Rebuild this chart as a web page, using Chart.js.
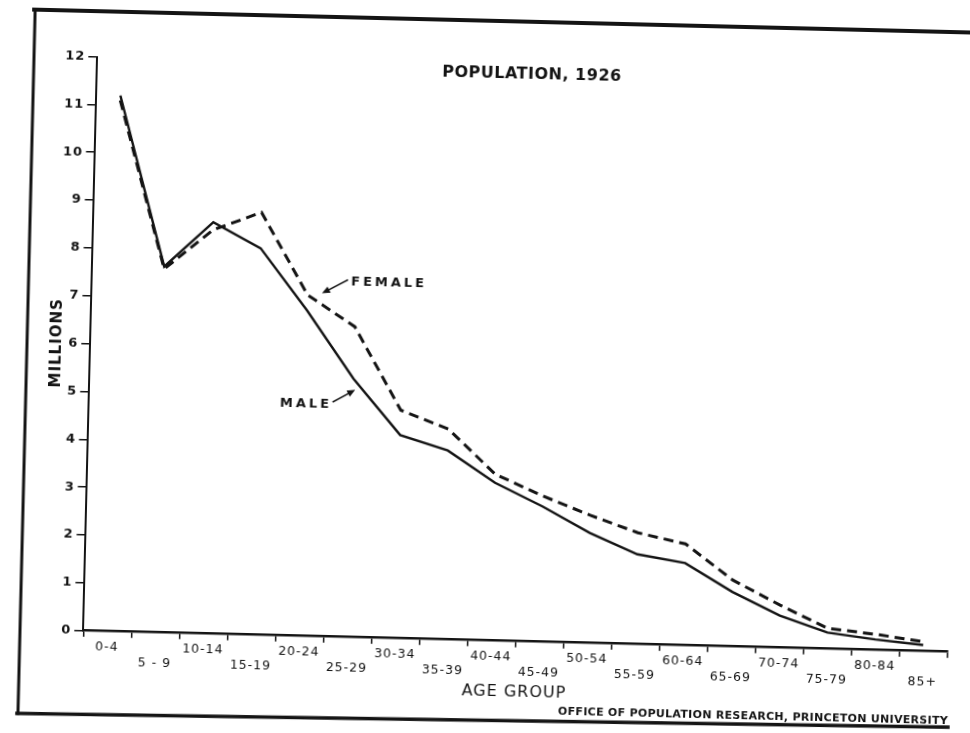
<!DOCTYPE html>
<html>
<head>
<meta charset="utf-8">
<title>Population, 1926</title>
<script src="https://cdn.jsdelivr.net/npm/chart.js@4.4.0/dist/chart.umd.min.js"></script>
<style>
  html, body { margin: 0; padding: 0; background: #fff; overflow: hidden; }
  #wrap { position: relative; width: 970px; height: 733px; }
  /* the scanned page sits a little crooked */
  #chart { display: block; transform: rotate(1.4deg); transform-origin: 83.3px 630.7px; }
</style>
</head>
<body>
<div id="wrap"><canvas id="chart" width="970" height="733"></canvas></div>
<script>
// Age groups on the x axis
var ageGroups = ['0-4', '5 - 9', '10-14', '15-19', '20-24', '25-29', '30-34', '35-39', '40-44',
                 '45-49', '50-54', '55-59', '60-64', '65-69', '70-74', '75-79', '80-84', '85+'];

// Population in millions
var male   = [11.2, 7.65, 8.6, 8.08, 6.8, 5.4, 4.25, 3.95, 3.3, 2.83, 2.3, 1.88, 1.72, 1.14, 0.67, 0.34, 0.22, 0.13];
var female = [11.1, 7.6, 8.44, 8.83, 7.13, 6.49, 4.77, 4.4, 3.48, 3.05, 2.67, 2.33, 2.12, 1.39, 0.89, 0.43, 0.33, 0.2];

var ink = '#141414';
Chart.defaults.font.family = "'DejaVu Sans', sans-serif";
Chart.defaults.color = ink;

// Draws the page frame, title, series labels and credit line
var paperNotes = {
    id: 'paperNotes',
    beforeDraw: function (chart) {
        chart.ctx.letterSpacing = '1px';
    },
    afterDraw: function (chart) {
        var ctx = chart.ctx;
        var xs = chart.scales.x;
        var ys = chart.scales.y;
        function px(i) { return xs.getPixelForValue(i); }
        function py(v) { return ys.getPixelForValue(v); }

        function arrow(x1, y1, x2, y2) {
            var a = Math.atan2(y2 - y1, x2 - x1);
            ctx.lineWidth = 1.6;
            ctx.beginPath();
            ctx.moveTo(x1, y1);
            ctx.lineTo(x2 - 5 * Math.cos(a), y2 - 5 * Math.sin(a));
            ctx.stroke();
            ctx.beginPath();
            ctx.moveTo(x2, y2);
            ctx.lineTo(x2 - 8 * Math.cos(a) + 3.5 * Math.sin(a), y2 - 8 * Math.sin(a) - 3.5 * Math.cos(a));
            ctx.lineTo(x2 - 8 * Math.cos(a) - 3.5 * Math.sin(a), y2 - 8 * Math.sin(a) + 3.5 * Math.cos(a));
            ctx.closePath();
            ctx.fill();
        }

        ctx.save();
        ctx.strokeStyle = ink;
        ctx.fillStyle = ink;
        ctx.lineCap = 'square';

        // frame
        ctx.lineWidth = 3;
        ctx.beginPath(); ctx.moveTo(20, 715); ctx.lineTo(20, 11); ctx.stroke();
        ctx.lineWidth = 4;
        ctx.beginPath(); ctx.moveTo(19, 11); ctx.lineTo(975, 11); ctx.stroke();
        ctx.lineWidth = 3.5;
        ctx.beginPath(); ctx.moveTo(19, 715); ctx.lineTo(950, 706); ctx.stroke();

        // title
        ctx.textBaseline = 'middle';
        ctx.textAlign = 'center';
        ctx.letterSpacing = '0.5px';
        ctx.font = "bold 16px 'DejaVu Sans'";
        ctx.fillText('POPULATION, 1926', px(8.56), py(11.84));

        // series labels
        ctx.textAlign = 'left';
        ctx.letterSpacing = '3px';
        ctx.font = "bold 13px 'DejaVu Sans'";
        ctx.fillText('FEMALE', px(4.9), py(7.42));
        arrow(px(4.82), py(7.46), px(4.3), py(7.17));
        ctx.fillText('MALE', px(3.48), py(4.86));
        arrow(px(4.59), py(4.91), px(5.04), py(5.17));

        // credit
        ctx.textAlign = 'right';
        ctx.letterSpacing = '0.3px';
        ctx.font = "bold 11px 'DejaVu Sans'";
        ctx.fillText('OFFICE OF POPULATION RESEARCH, PRINCETON UNIVERSITY', 950, 700);
        ctx.restore();
    }
};

var ctx = document.getElementById('chart').getContext('2d');
window.popChart = new Chart(ctx, {
    type: 'line',
    data: {
        labels: ageGroups,
        datasets: [{
            label: 'Male',
            data: male,
            borderColor: ink,
            borderWidth: 2.4,
            pointRadius: 0,
            tension: 0,
            fill: false
        }, {
            label: 'Female',
            data: female,
            borderColor: ink,
            borderWidth: 3,
            borderDash: [10, 6],
            pointRadius: 0,
            tension: 0,
            fill: false
        }]
    },
    options: {
        responsive: false,
        animation: false,
        devicePixelRatio: 1,
        layout: { padding: { left: 0, right: 22.7, top: 56.5, bottom: 0 } },
        plugins: {
            legend: { display: false },
            tooltip: { enabled: false }
        },
        scales: {
            x: {
                offset: true,
                grid: { offset: true, drawOnChartArea: false, drawTicks: true, tickLength: 6, color: ink, lineWidth: 1.5 },
                border: { display: true, color: ink, width: 2.5 },
                ticks: {
                    autoSkip: false,
                    maxRotation: 0,
                    minRotation: 0,
                    padding: 2,
                    color: ink,
                    font: { size: 12.5, lineHeight: 1.25 },
                    callback: function (value, index) {
                        // every second group sits on a lower row
                        return index % 2 ? ['', ageGroups[index]] : ageGroups[index];
                    }
                },
                title: {
                    display: true,
                    text: 'AGE GROUP',
                    color: ink,
                    font: { size: 16 },
                    padding: { top: 0, bottom: 42 }
                },
                afterFit: function (scale) { scale.height = 102.3; }
            },
            y: {
                min: 0,
                max: 12,
                ticks: { stepSize: 1, padding: 3, color: ink, font: { size: 13, weight: 'bold' } },
                grid: { drawOnChartArea: false, drawTicks: true, tickLength: 9, color: ink, lineWidth: 1.5 },
                border: { display: true, color: ink, width: 2 },
                title: {
                    display: true,
                    text: 'MILLIONS',
                    color: ink,
                    font: { size: 15, weight: 'bold' },
                    padding: { top: 41, bottom: 0 }
                },
                afterFit: function (scale) { scale.width = 83.3; }
            }
        }
    },
    plugins: [paperNotes]
});
</script>
</body>
</html>
